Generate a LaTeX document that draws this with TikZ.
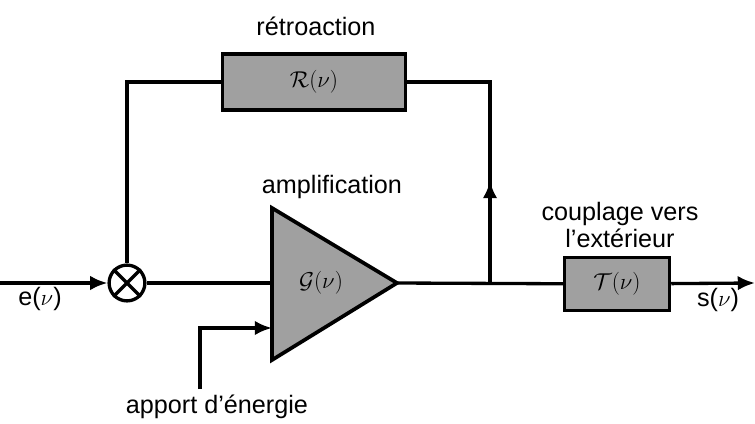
\documentclass[tikz,border=0pt]{standalone}
\usepackage{fontspec}
\setmainfont{Liberation Sans}
\usetikzlibrary{positioning,arrows.meta,calc}

\definecolor{blocgris}{RGB}{160,160,160}
\tikzset{
  bloc/.style={draw,line width=2.8pt,fill=blocgris},
  fil/.style={line width=2.5pt},
  mult/.style={draw,circle,line width=2.5pt,minimum size=27pt,inner sep=0pt},
  lbl/.style={font=\fontsize{19}{21}\selectfont},
}

\begin{document}
\begin{tikzpicture}[x=0.0265cm,y=-0.0265cm,>={Latex[length=13pt,width=11pt]}]
  \useasboundingbox (0,0) rectangle (755,423);
  % blocs
  \node[bloc,lbl,minimum width=138pt,minimum height=42pt] (retro) at (314,82) {$\mathcal{R}(\nu)$};
  \node[bloc,lbl,minimum width=79pt,minimum height=40pt] (coupl) at (617,284) {$\mathcal{T}(\nu)$};
  \node[mult] (mult) at (127,283) {};
  \draw[fil] (mult.45) -- (mult.225) (mult.135) -- (mult.-45);
  % amplificateur
  \coordinate (ampin) at (272,283);
  \coordinate (ampout) at (397,283);
  \coordinate (ampe) at (272,328);
  \draw[bloc,line join=miter] (272,208) -- (ampout) -- (272,360) -- cycle;
  \node[lbl] (ampg) at (321,283) {$\mathcal{G}(\nu)$};
  % connexions
  \coordinate (ein) at (0,283);
  \coordinate (branch) at (490,283);
  \coordinate (fleche) at (490,181);
  \coordinate (sout) at (755,283);
  \coordinate (eng) at (200,389);
  \draw[fil,->] (ein) -- (mult);
  \draw[fil] (mult) -- (ampin);
  \draw[fil] (mult) |- (retro);
  \draw[fil] (retro) -| (branch);
  \draw[fil,->] (branch) -- (fleche);
  \draw[fil] (ampout) -- (coupl);
  \draw[fil,->] (coupl) -- (sout);
  \draw[fil,->] (eng) |- (ampe);
  % textes
  \node[lbl] (tretro) at (316,26) {rétroaction};
  \node[lbl] (tamp) at (332,187) {amplification};
  \node[lbl,align=center] (tcoupl) at (620,225) {couplage vers\\l’extérieur};
  \node[lbl] (te) at (40,299) {e($\nu$)};
  \node[lbl] (ts) at (718,300) {s($\nu$)};
  \node[lbl] (teng) at (217,407) {apport d’énergie};
\end{tikzpicture}
\end{document}
